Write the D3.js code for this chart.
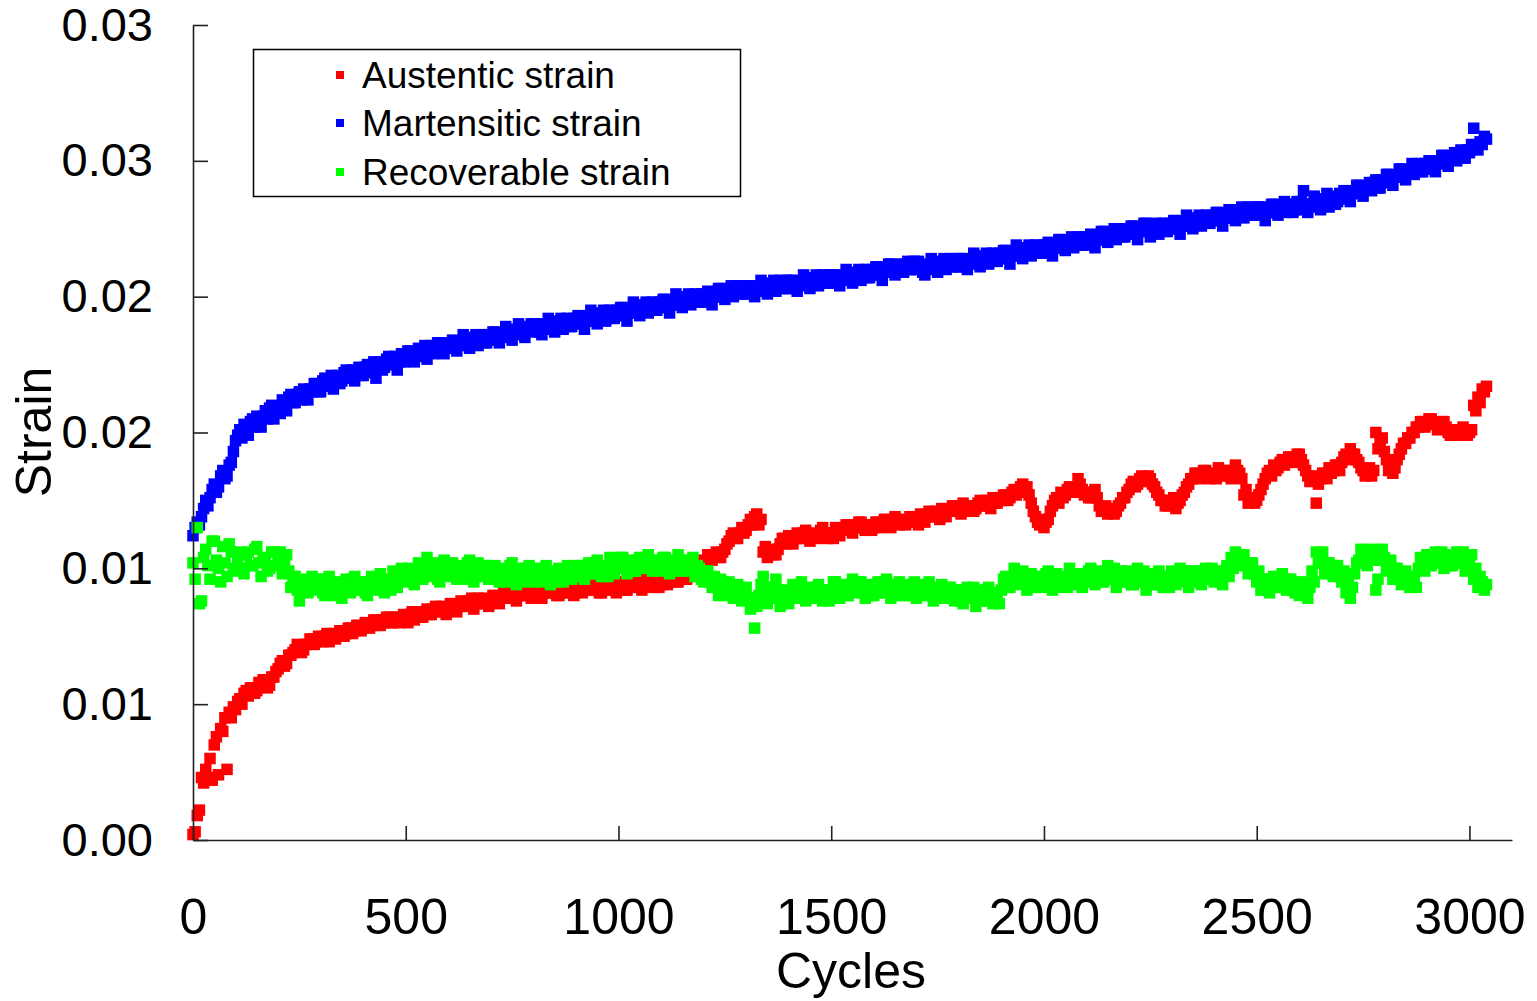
<!DOCTYPE html>
<html>
<head>
<meta charset="utf-8">
<script src="https://cdn.jsdelivr.net/npm/d3@7"></script>
<style>
  body { margin: 0; background: #fff; }
  svg { display: block; font-family: "Liberation Sans", Arial, sans-serif; }
  .axis path, .axis line { stroke: #222; stroke-width: 1.6; }
  .axis text { fill: #000; }
</style>
</head>
<body>
<svg id="chart" width="1537" height="1001"></svg>
<script>
// Strain vs cycles (strain x 1e-3), one value every 5 cycles

const cycleStep = 5;

const austeniticStrain = [
  0.2, 0.3, 0.9, 1.1, 2.3, 2.1, 2.6, 2.3, 3.0, 2.2, 3.5, 3.8, 2.4, 4.1, 4.0, 4.5, 2.6, 4.7, 4.5, 4.9,
  4.8, 5.1, 5.2, 5.0, 5.4, 5.5, 5.3, 5.6, 5.6, 5.4, 5.5, 5.8, 5.7, 5.9, 5.8, 5.6, 5.7, 6.0, 6.0, 6.2,
  6.3, 6.5, 6.6, 6.4, 6.5, 6.8, 6.8, 6.9, 7.0, 7.2, 7.1, 6.9, 7.0, 7.2, 7.2, 7.4, 7.4, 7.2, 7.3, 7.5,
  7.4, 7.3, 7.5, 7.6, 7.3, 7.5, 7.6, 7.4, 7.5, 7.7, 7.7, 7.5, 7.6, 7.8, 7.8, 7.6, 7.7, 7.9, 7.9, 7.7,
  7.8, 8.0, 8.0, 7.8, 7.9, 8.1, 8.1, 7.9, 7.9, 8.1, 8.0, 8.2, 8.2, 8.0, 8.0, 8.2, 8.2, 8.0, 8.1, 8.3,
  8.2, 8.0, 8.3, 8.4, 8.1, 8.3, 8.4, 8.2, 8.2, 8.4, 8.5, 8.3, 8.3, 8.5, 8.6, 8.4, 8.4, 8.6, 8.5, 8.3,
  8.5, 8.7, 8.7, 8.5, 8.4, 8.6, 8.8, 8.6, 8.6, 8.8, 8.7, 8.9, 8.5, 8.7, 8.9, 8.7, 8.7, 8.9, 8.8, 8.6,
  8.8, 9.0, 9.0, 8.8, 8.7, 8.9, 9.1, 8.9, 8.9, 9.1, 9.0, 9.2, 8.8, 9.0, 9.2, 9.0, 9.0, 9.2, 9.1, 8.9,
  9.0, 9.2, 9.2, 9.0, 8.9, 9.1, 9.3, 9.1, 9.1, 9.3, 9.2, 9.0, 9.0, 9.2, 9.3, 9.1, 9.1, 9.3, 9.2, 9.0,
  9.1, 9.3, 9.3, 9.1, 9.2, 9.4, 9.4, 9.2, 9.2, 9.4, 9.3, 9.1, 9.1, 9.3, 9.4, 9.2, 9.2, 9.4, 9.3, 9.1,
  9.3, 9.5, 9.4, 9.2, 9.2, 9.4, 9.5, 9.3, 9.3, 9.5, 9.4, 9.2, 9.4, 9.6, 9.6, 9.4, 9.3, 9.5, 9.5, 9.3,
  9.4, 9.6, 9.6, 9.4, 9.5, 9.7, 9.7, 9.5, 9.5, 9.7, 9.8, 9.6, 9.6, 9.8, 9.9, 9.7, 10.0, 10.2, 10.2, 10.0,
  10.3, 10.1, 10.5, 10.4, 10.3, 10.5, 10.6, 10.4, 10.4, 10.6, 10.7, 10.9, 11.0, 11.2, 11.3, 11.1, 11.1, 11.3, 11.5, 11.3,
  11.4, 11.6, 11.8, 11.6, 11.9, 12.0, 11.6, 11.8, 10.6, 10.8, 10.4, 10.6, 10.7, 10.5, 10.5, 10.7, 10.9, 11.1, 11.1, 10.9,
  11.2, 11.0, 10.9, 11.1, 11.3, 11.1, 11.1, 11.3, 11.4, 11.2, 11.0, 11.2, 11.3, 11.1, 11.2, 11.4, 11.5, 11.3, 11.1, 11.3,
  11.3, 11.1, 11.5, 11.3, 11.2, 11.4, 11.4, 11.6, 11.6, 11.4, 11.3, 11.5, 11.5, 11.7, 11.7, 11.5, 11.4, 11.6, 11.6, 11.4,
  11.5, 11.7, 11.7, 11.5, 11.6, 11.8, 11.8, 11.6, 11.5, 11.7, 11.9, 11.7, 11.6, 11.8, 11.8, 11.6, 11.7, 11.9, 11.9, 11.7,
  11.8, 11.6, 12.0, 11.8, 11.7, 11.9, 12.1, 11.9, 11.9, 12.1, 12.0, 11.8, 12.2, 12.0, 11.9, 12.1, 12.1, 12.3, 12.3, 12.1,
  12.2, 12.0, 12.4, 12.2, 12.1, 12.3, 12.3, 12.1, 12.2, 12.4, 12.5, 12.3, 12.3, 12.5, 12.4, 12.2, 12.6, 12.4, 12.4, 12.6,
  12.5, 12.7, 12.7, 12.5, 12.6, 12.8, 12.9, 12.7, 12.8, 13.0, 13.1, 12.9, 13.0, 12.7, 12.4, 12.1, 11.9, 11.7, 11.6, 11.8,
  11.5, 11.7, 11.8, 12.1, 12.3, 12.5, 12.6, 12.4, 12.8, 12.6, 12.7, 12.9, 13.0, 12.8, 12.8, 13.0, 13.3, 13.1, 12.9, 12.7,
  12.8, 12.6, 12.6, 12.8, 12.9, 12.6, 12.3, 12.1, 12.1, 12.3, 12.0, 12.2, 12.2, 12.0, 12.1, 12.3, 12.4, 12.6, 12.6, 12.8,
  12.9, 13.1, 13.2, 13.0, 13.1, 13.3, 13.4, 13.2, 13.2, 13.4, 13.3, 13.1, 13.0, 12.8, 12.7, 12.5, 12.5, 12.3, 12.3, 12.5,
  12.4, 12.6, 12.2, 12.4, 12.5, 12.7, 12.8, 13.0, 13.1, 13.3, 13.3, 13.5, 13.5, 13.3, 13.4, 13.6, 13.6, 13.4, 13.3, 13.5,
  13.5, 13.3, 13.7, 13.5, 13.4, 13.6, 13.6, 13.4, 13.3, 13.5, 13.8, 13.6, 13.5, 13.3, 12.7, 12.9, 12.4, 12.6, 12.6, 12.4,
  12.5, 12.7, 12.9, 13.1, 13.3, 13.5, 13.6, 13.4, 13.8, 13.6, 13.7, 13.9, 14.0, 13.8, 13.9, 14.1, 14.1, 13.9, 14.0, 14.2,
  14.2, 14.0, 13.8, 13.6, 13.4, 13.2, 13.2, 13.4, 12.4, 13.1, 13.3, 13.5, 13.5, 13.3, 13.7, 13.5, 13.6, 13.8, 13.8, 13.6,
  13.9, 14.1, 14.2, 14.0, 14.4, 14.2, 14.2, 14.0, 13.9, 13.7, 13.6, 13.4, 13.5, 13.7, 13.4, 13.6, 15.0, 14.4, 14.6, 14.8,
  14.3, 14.0, 13.6, 13.8, 13.5, 13.7, 14.0, 14.2, 14.4, 14.6, 14.6, 14.8, 14.8, 15.0, 15.0, 15.2, 15.2, 15.4, 15.4, 15.2,
  15.3, 15.5, 15.5, 15.3, 15.3, 15.1, 15.2, 15.4, 15.4, 15.2, 15.0, 14.9, 14.9, 15.1, 15.1, 14.9, 15.0, 15.2, 15.1, 14.9,
  15.0, 15.1, 16.0, 15.8, 16.3, 16.1, 16.6, 16.5, 16.7
];

const martensiticStrain = [
  11.2, 11.5, 11.7, 11.6, 11.9, 12.2, 12.5, 12.3, 12.6, 12.9, 13.1, 12.8, 13.0, 13.4, 13.6, 13.3, 13.4, 13.8, 13.9, 14.3,
  14.7, 14.9, 15.1, 14.8, 15.3, 15.2, 14.9, 15.4, 15.5, 15.2, 15.6, 15.3, 15.2, 15.6, 15.8, 15.5, 15.9, 16.0, 15.5, 15.8,
  15.9, 15.7, 16.2, 16.0, 15.8, 16.3, 16.4, 16.1, 16.1, 16.4, 16.5, 16.2, 16.6, 16.3, 16.2, 16.6, 16.5, 16.8, 16.8, 16.5,
  16.5, 16.9, 17.0, 16.7, 16.8, 17.1, 16.6, 16.9, 17.1, 16.8, 16.9, 17.2, 17.3, 17.0, 17.0, 17.3, 16.9, 17.2, 17.4, 17.1,
  17.1, 17.4, 17.5, 17.2, 17.3, 17.6, 17.0, 17.4, 17.6, 17.3, 17.4, 17.7, 17.8, 17.5, 17.5, 17.8, 17.3, 17.6, 17.9, 17.6,
  17.7, 18.0, 18.0, 17.7, 17.6, 17.9, 18.1, 17.8, 17.9, 18.2, 17.7, 18.0, 18.2, 17.9, 18.0, 18.3, 18.3, 18.0, 17.9, 18.2,
  18.1, 18.3, 18.4, 18.1, 18.0, 18.3, 18.3, 18.6, 18.5, 18.2, 18.1, 18.4, 18.4, 18.6, 18.2, 18.5, 18.6, 18.3, 18.3, 18.6,
  18.4, 18.7, 18.7, 18.4, 18.3, 18.6, 18.6, 18.9, 18.8, 18.5, 18.4, 18.7, 18.7, 19.0, 18.9, 18.6, 18.5, 18.8, 18.8, 19.0,
  18.7, 19.0, 19.0, 18.7, 18.6, 18.9, 18.9, 19.2, 19.1, 18.8, 18.7, 19.0, 19.0, 19.2, 18.8, 19.1, 19.2, 18.9, 18.9, 19.2,
  19.0, 19.3, 19.3, 19.0, 18.8, 19.1, 19.2, 19.5, 19.4, 19.1, 19.0, 19.3, 19.3, 19.5, 19.1, 19.4, 19.5, 19.2, 19.2, 19.5,
  19.3, 19.6, 19.6, 19.3, 19.1, 19.4, 19.5, 19.8, 19.7, 19.4, 19.3, 19.6, 19.6, 19.8, 19.4, 19.7, 19.8, 19.5, 19.5, 19.8,
  19.6, 19.9, 19.9, 19.6, 19.4, 19.7, 19.8, 20.1, 20.0, 19.7, 19.6, 19.9, 19.9, 20.1, 19.7, 20.0, 20.1, 19.8, 19.8, 20.1,
  19.8, 20.1, 20.2, 19.9, 19.7, 20.0, 20.0, 20.3, 20.3, 20.0, 19.9, 20.2, 20.2, 20.4, 20.0, 20.3, 20.4, 20.1, 20.1, 20.4,
  20.1, 20.4, 20.4, 20.1, 20.0, 20.3, 20.3, 20.6, 20.5, 20.2, 20.1, 20.4, 20.4, 20.6, 20.2, 20.5, 20.6, 20.3, 20.3, 20.6,
  20.3, 20.6, 20.6, 20.3, 20.2, 20.5, 20.5, 20.8, 20.7, 20.4, 20.3, 20.6, 20.6, 20.8, 20.4, 20.7, 20.8, 20.5, 20.5, 20.8,
  20.5, 20.8, 20.8, 20.5, 20.4, 20.7, 20.7, 21.0, 20.9, 20.6, 20.5, 20.8, 20.8, 21.0, 20.6, 20.9, 21.0, 20.7, 20.7, 21.0,
  20.8, 21.1, 21.1, 20.8, 20.6, 20.9, 20.9, 21.2, 21.2, 20.9, 20.8, 21.1, 21.0, 21.2, 20.9, 21.2, 21.3, 21.0, 21.0, 21.3,
  21.0, 21.3, 21.2, 20.9, 20.8, 21.1, 21.1, 21.4, 21.3, 21.0, 20.9, 21.2, 21.2, 21.4, 21.0, 21.3, 21.4, 21.1, 21.1, 21.4,
  21.1, 21.4, 21.4, 21.1, 21.0, 21.3, 21.3, 21.6, 21.5, 21.2, 21.1, 21.4, 21.4, 21.6, 21.2, 21.5, 21.6, 21.3, 21.3, 21.6,
  21.4, 21.7, 21.7, 21.4, 21.2, 21.5, 21.6, 21.9, 21.8, 21.5, 21.4, 21.7, 21.7, 21.9, 21.5, 21.8, 21.9, 21.6, 21.6, 21.9,
  21.6, 21.9, 22.0, 21.7, 21.5, 21.8, 21.8, 22.1, 22.1, 21.8, 21.7, 22.0, 22.0, 22.2, 21.8, 22.1, 22.2, 21.9, 21.9, 22.2,
  21.9, 22.2, 22.3, 22.0, 21.8, 22.1, 22.1, 22.4, 22.4, 22.1, 22.0, 22.3, 22.3, 22.5, 22.1, 22.4, 22.5, 22.2, 22.2, 22.5,
  22.3, 22.6, 22.6, 22.3, 22.1, 22.4, 22.4, 22.7, 22.7, 22.4, 22.2, 22.5, 22.5, 22.7, 22.3, 22.6, 22.7, 22.4, 22.4, 22.7,
  22.5, 22.8, 22.8, 22.5, 22.3, 22.6, 22.7, 23.0, 22.9, 22.6, 22.5, 22.8, 22.8, 23.0, 22.6, 22.9, 23.0, 22.7, 22.7, 23.0,
  22.8, 23.1, 23.1, 22.8, 22.6, 22.9, 22.9, 23.2, 23.2, 22.9, 22.8, 23.1, 23.1, 23.3, 22.9, 23.2, 23.3, 23.0, 23.0, 23.3,
  23.0, 23.3, 23.3, 23.0, 22.8, 23.1, 23.1, 23.4, 23.4, 23.1, 23.0, 23.3, 23.3, 23.5, 23.1, 23.4, 23.4, 23.1, 23.2, 23.5,
  23.2, 23.5, 23.9, 23.4, 23.1, 23.4, 23.4, 23.7, 23.6, 23.3, 23.2, 23.5, 23.5, 23.8, 23.3, 23.6, 23.7, 23.4, 23.5, 23.8,
  23.6, 23.9, 23.9, 23.6, 23.5, 23.8, 23.8, 24.1, 24.1, 23.8, 23.7, 24.0, 24.0, 24.2, 23.9, 24.2, 24.3, 24.0, 24.0, 24.3,
  24.2, 24.5, 24.5, 24.2, 24.1, 24.4, 24.4, 24.7, 24.7, 24.4, 24.3, 24.6, 24.6, 24.9, 24.5, 24.8, 24.9, 24.6, 24.6, 24.9,
  24.7, 25.0, 25.0, 24.7, 24.6, 24.9, 24.9, 25.2, 25.2, 24.9, 24.8, 25.1, 25.1, 25.3, 25.0, 25.3, 25.4, 25.1, 25.1, 25.4,
  25.3, 25.6, 26.2, 25.5, 25.4, 25.7, 25.6, 25.9, 25.8
];

const recoverableStrain = [
  10.2, 9.6, 11.5, 8.7, 8.8, 10.4, 10.7, 10.1, 9.6, 11.0, 11.0, 10.3, 10.0, 9.5, 10.8, 10.2, 9.7, 10.9, 10.6, 10.0,
  9.9, 10.4, 10.6, 10.0, 9.8, 10.5, 10.6, 10.1, 10.1, 10.7, 10.8, 10.2, 9.7, 10.3, 10.4, 9.9, 10.0, 10.6, 10.6, 10.1,
  10.3, 10.6, 9.8, 10.1, 10.5, 9.9, 9.3, 9.7, 9.7, 9.2, 8.8, 9.4, 9.6, 9.2, 9.1, 9.5, 9.7, 9.3, 9.2, 9.6,
  9.6, 9.1, 9.0, 9.5, 9.7, 9.3, 9.0, 9.4, 9.5, 9.1, 8.9, 9.4, 9.6, 9.2, 9.1, 9.6, 9.7, 9.3, 9.2, 9.5,
  9.5, 9.1, 9.0, 9.5, 9.7, 9.3, 9.2, 9.6, 9.8, 9.4, 9.1, 9.6, 9.6, 9.2, 9.9, 9.5, 9.3, 9.7, 10.0, 9.6,
  9.5, 9.9, 10.0, 9.6, 9.4, 9.8, 10.2, 9.7, 9.6, 10.1, 10.4, 9.9, 9.7, 10.2, 10.1, 9.6, 9.5, 9.9, 10.3, 9.8,
  9.7, 10.1, 10.2, 9.7, 9.6, 10.0, 10.1, 9.6, 9.8, 10.2, 10.3, 9.8, 9.5, 9.9, 10.2, 9.7, 9.7, 10.1, 10.1, 9.6,
  9.6, 10.0, 10.1, 9.6, 9.5, 9.9, 10.0, 9.5, 9.7, 10.1, 10.2, 9.7, 9.4, 9.8, 10.0, 9.5, 9.6, 10.0, 10.1, 9.6,
  9.5, 9.9, 10.0, 9.5, 9.6, 10.0, 10.1, 9.6, 9.4, 9.8, 9.9, 9.5, 10.0, 9.6, 9.5, 9.9, 10.1, 9.7, 9.6, 10.0,
  9.7, 10.1, 10.1, 9.7, 9.6, 10.0, 10.2, 9.8, 9.8, 10.2, 10.3, 9.9, 9.7, 10.1, 10.1, 9.7, 10.4, 10.0, 9.8, 10.2,
  10.0, 10.4, 10.4, 10.0, 9.8, 10.2, 10.3, 9.9, 9.9, 10.3, 10.4, 10.0, 10.0, 10.4, 10.5, 10.1, 9.9, 10.3, 10.3, 9.9,
  10.0, 10.4, 10.4, 10.0, 9.8, 10.2, 10.3, 9.9, 10.5, 10.1, 9.9, 10.3, 10.3, 9.9, 10.0, 10.4, 9.7, 10.1, 10.0, 9.6,
  9.5, 9.9, 9.9, 9.5, 9.3, 9.7, 9.4, 9.0, 9.6, 9.2, 9.0, 9.4, 9.5, 9.1, 8.9, 9.3, 9.4, 9.0, 8.8, 9.2,
  9.3, 8.9, 8.5, 8.9, 7.8, 8.6, 9.0, 9.4, 9.7, 9.3, 8.7, 9.1, 9.3, 8.9, 9.6, 9.2, 8.6, 9.0, 9.2, 8.8,
  8.7, 9.1, 9.4, 9.0, 8.9, 9.3, 9.5, 9.1, 8.8, 9.2, 9.3, 8.9, 8.9, 9.3, 9.4, 9.0, 8.8, 9.2, 9.2, 8.8,
  9.1, 9.5, 9.5, 9.1, 8.9, 9.3, 9.4, 9.0, 9.0, 9.4, 9.6, 9.2, 9.1, 9.5, 9.5, 9.1, 8.9, 9.3, 9.4, 9.0,
  9.0, 9.4, 9.5, 9.1, 9.1, 9.5, 9.6, 9.2, 8.9, 9.3, 9.4, 9.0, 9.5, 9.1, 9.0, 9.4, 9.4, 9.0, 9.1, 9.5,
  8.9, 9.3, 9.4, 9.0, 9.0, 9.4, 9.5, 9.1, 8.8, 9.2, 9.3, 8.9, 9.4, 9.0, 8.9, 9.3, 9.3, 8.9, 8.8, 9.2,
  9.2, 8.8, 8.7, 9.1, 9.3, 8.9, 8.9, 9.3, 8.6, 9.0, 9.2, 8.8, 8.8, 9.2, 9.3, 8.9, 8.7, 9.1, 9.1, 8.7,
  9.2, 9.6, 9.7, 9.3, 9.3, 9.7, 10.0, 9.6, 9.4, 9.8, 9.9, 9.5, 9.2, 9.6, 9.8, 9.4, 9.3, 9.7, 9.7, 9.3,
  9.4, 9.8, 9.9, 9.5, 9.2, 9.6, 9.8, 9.4, 9.3, 9.7, 9.7, 9.3, 10.0, 9.6, 9.4, 9.8, 9.8, 9.4, 9.3, 9.7,
  9.5, 9.9, 10.0, 9.6, 9.4, 9.8, 9.9, 9.5, 9.5, 9.9, 10.1, 9.7, 9.6, 10.0, 9.3, 9.7, 9.9, 9.5, 9.5, 9.9,
  9.8, 9.4, 9.4, 9.8, 10.0, 9.6, 9.5, 9.9, 9.2, 9.6, 9.8, 9.4, 9.4, 9.8, 9.9, 9.5, 9.3, 9.7, 9.7, 9.3,
  9.9, 9.5, 9.4, 9.8, 10.0, 9.6, 9.5, 9.9, 9.3, 9.7, 9.9, 9.5, 9.5, 9.9, 9.4, 9.8, 10.0, 9.6, 9.6, 10.0,
  9.5, 9.9, 9.9, 9.5, 9.4, 9.8, 10.1, 9.7, 10.4, 10.0, 10.6, 10.2, 10.1, 10.5, 10.5, 10.1, 9.8, 10.2, 10.2, 9.8,
  9.5, 9.9, 9.2, 9.6, 9.6, 9.2, 9.1, 9.5, 9.7, 9.3, 9.3, 9.7, 9.8, 9.4, 9.2, 9.6, 9.6, 9.2, 9.1, 9.5,
  9.0, 9.4, 9.5, 9.1, 8.9, 9.3, 9.9, 9.5, 10.6, 10.2, 10.2, 10.6, 9.8, 10.2, 10.2, 9.8, 9.7, 10.1, 10.1, 9.7,
  9.5, 9.9, 9.1, 9.5, 8.9, 9.3, 9.8, 10.2, 10.3, 10.7, 10.6, 10.2, 10.1, 10.5, 10.7, 10.3, 9.2, 9.6, 10.3, 10.7,
  10.4, 10.0, 9.9, 10.3, 9.6, 10.0, 10.0, 9.6, 9.4, 9.8, 9.9, 9.5, 9.3, 9.7, 9.7, 9.3, 10.0, 10.4, 10.3, 9.9,
  10.5, 10.1, 10.1, 10.5, 10.6, 10.2, 10.2, 10.6, 10.0, 10.4, 10.5, 10.1, 10.1, 10.5, 10.6, 10.2, 10.2, 10.6, 9.9, 10.3,
  10.2, 10.5, 9.6, 10.0, 9.3, 9.7, 9.5, 9.2, 9.4
];

const seriesNames = ["Austentic strain", "Martensitic strain", "Recoverable strain"];
const seriesColors = ["#ff0000", "#0000ff", "#00ff00"];

const xTicks = [0, 500, 1000, 1500, 2000, 2500, 3000];
const yTicks = [0, 0.005, 0.01, 0.015, 0.02, 0.025, 0.03];
const yTickLabels = ["0.00", "0.01", "0.01", "0.02", "0.02", "0.03", "0.03"];

const svg = d3.select("#chart");

const x = d3.scaleLinear().domain([0, 3100]).range([193, 1512]);
const y = d3.scaleLinear().domain([0, 0.03]).range([840, 25]);

// points, drawn in legend order so green ends on top
const allSeries = [austeniticStrain, martensiticStrain, recoverableStrain];
const markSize = 11.5;

allSeries.forEach((values, si) => {
    svg.append("g")
        .selectAll("rect")
        .data(values)
        .enter()
        .append("rect")
        .attr("x", (d, i) => x(i * cycleStep) - markSize / 2)
        .attr("y", d => y(d / 1000) - markSize / 2)
        .attr("width", markSize)
        .attr("height", markSize)
        .attr("fill", seriesColors[si]);
});

// axes (ticks point inward)
svg.append("g")
    .attr("class", "axis")
    .attr("transform", "translate(0,840)")
    .call(d3.axisBottom(x).tickValues(xTicks).tickSize(-14).tickSizeOuter(0).tickPadding(58)
        .tickFormat(d3.format("d")))
    .call(g => g.selectAll("text").attr("font-size", 50).attr("font-family", "Liberation Sans, Arial, sans-serif"));

svg.append("g")
    .attr("class", "axis")
    .attr("transform", "translate(193,0)")
    .call(d3.axisLeft(y).tickValues(yTicks).tickSize(-15).tickSizeOuter(0).tickPadding(40)
        .tickFormat((d, i) => yTickLabels[i]))
    .call(g => g.selectAll("text").attr("font-size", 47).attr("font-family", "Liberation Sans, Arial, sans-serif"));

// axis titles
svg.append("text")
    .attr("x", 851)
    .attr("y", 988)
    .attr("text-anchor", "middle")
    .attr("font-size", 50)
    .text("Cycles");

svg.append("text")
    .attr("transform", "translate(51,432) rotate(-90)")
    .attr("text-anchor", "middle")
    .attr("font-size", 50)
    .text("Strain");

// legend
const legend = svg.append("g");
legend.append("rect")
    .attr("x", 253.5)
    .attr("y", 49.5)
    .attr("width", 487)
    .attr("height", 147)
    .attr("fill", "#fff")
    .attr("stroke", "#000")
    .attr("stroke-width", 1.5);

const legendRows = [75, 123, 172];
seriesNames.forEach((name, i) => {
    legend.append("rect")
        .attr("x", 336)
        .attr("y", legendRows[i] - 4)
        .attr("width", 8)
        .attr("height", 8)
        .attr("fill", seriesColors[i]);
    legend.append("text")
        .attr("x", 362)
        .attr("y", legendRows[i] + 13)
        .attr("font-size", 37)
        .text(name);
});
</script>
</body>
</html>
